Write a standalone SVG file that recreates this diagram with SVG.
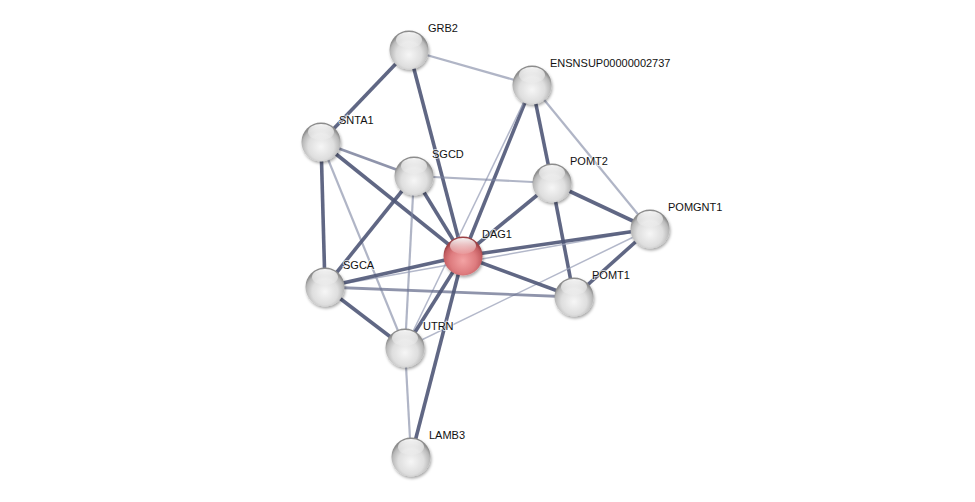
<svg xmlns="http://www.w3.org/2000/svg" width="975" height="502" viewBox="0 0 975 502">
<defs>
<radialGradient id="gGray" cx="50%" cy="62%" r="55%">
<stop offset="0" stop-color="#f6f6f6"/>
<stop offset="0.6" stop-color="#dedede"/>
<stop offset="0.88" stop-color="#b8b8b8"/>
<stop offset="1" stop-color="#8c8c8c"/>
</radialGradient>
<radialGradient id="gRed" cx="50%" cy="62%" r="55%">
<stop offset="0" stop-color="#f3a3a4"/>
<stop offset="0.6" stop-color="#de7c7f"/>
<stop offset="0.88" stop-color="#c45e62"/>
<stop offset="1" stop-color="#9c4145"/>
</radialGradient>
<linearGradient id="gHi" x1="0" y1="0" x2="0" y2="1">
<stop offset="0" stop-color="#ffffff" stop-opacity="0.95"/>
<stop offset="1" stop-color="#ffffff" stop-opacity="0.1"/>
</linearGradient>
<filter id="sh" x="-40%" y="-40%" width="180%" height="180%">
<feDropShadow dx="1" dy="2" stdDeviation="1.6" flood-color="#000" flood-opacity="0.35"/>
</filter>
<style>
.e1{stroke:#4f5777;stroke-width:3.6;stroke-opacity:0.9;fill:none}
.e2{stroke:#69708f;stroke-width:2.8;stroke-opacity:0.75;fill:none}
.e3{stroke:#7c83a0;stroke-width:2.2;stroke-opacity:0.6;fill:none}
.e4{stroke:#9aa0b8;stroke-width:1.5;stroke-opacity:0.75;fill:none}
.n{fill:url(#gGray);filter:url(#sh)}
.r{fill:url(#gRed);filter:url(#sh)}
.hi{fill:url(#gHi)}
text{font-family:"Liberation Sans",Arial,sans-serif;font-size:11px;fill:#111;paint-order:stroke;stroke:#fff;stroke-width:2px;stroke-opacity:0.7}
</style>
</defs>
<rect width="975" height="502" fill="#ffffff"/>
<g id="connectors">
<line class="e1" x1="409" y1="50" x2="321" y2="142"/>
<line class="e3" x1="409" y1="50" x2="532" y2="85"/>
<line class="e1" x1="409" y1="50" x2="463" y2="256"/>
<line class="e1" x1="532" y1="85" x2="463" y2="256"/>
<line class="e4" x1="532" y1="85" x2="405" y2="348"/>
<line class="e1" x1="532" y1="85" x2="552" y2="183"/>
<line class="e3" x1="532" y1="85" x2="650" y2="229"/>
<line class="e2" x1="321" y1="142" x2="414" y2="176"/>
<line class="e1" x1="321" y1="142" x2="463" y2="256"/>
<line class="e1" x1="321" y1="142" x2="325" y2="287"/>
<line class="e3" x1="321" y1="142" x2="405" y2="348"/>
<line class="e3" x1="414" y1="176" x2="552" y2="183"/>
<line class="e1" x1="414" y1="176" x2="463" y2="256"/>
<line class="e1" x1="414" y1="176" x2="325" y2="287"/>
<line class="e3" x1="414" y1="176" x2="405" y2="348"/>
<line class="e1" x1="552" y1="183" x2="463" y2="256"/>
<line class="e1" x1="552" y1="183" x2="650" y2="229"/>
<line class="e1" x1="552" y1="183" x2="574" y2="297"/>
<line class="e4" x1="325" y1="287" x2="650" y2="229"/>
<line class="e4" x1="405" y1="348" x2="650" y2="229"/>
<line class="e1" x1="463" y1="256" x2="650" y2="229"/>
<line class="e1" x1="574" y1="297" x2="463" y2="256"/>
<line class="e1" x1="574" y1="297" x2="650" y2="229"/>
<line class="e2" x1="325" y1="287" x2="574" y2="297"/>
<line class="e1" x1="463" y1="256" x2="325" y2="287"/>
<line class="e1" x1="463" y1="256" x2="405" y2="348"/>
<line class="e1" x1="463" y1="256" x2="411" y2="457"/>
<line class="e1" x1="405" y1="348" x2="325" y2="287"/>
<line class="e3" x1="405" y1="348" x2="411" y2="457"/>
</g>
<g id="GRB2"><circle class="n" cx="409" cy="50" r="19.5"/><ellipse class="hi" cx="409" cy="40" rx="13" ry="8"/><text x="428" y="32">GRB2</text></g>
<g id="ENSNSUP00000002737"><circle class="n" cx="532" cy="85" r="19.5"/><ellipse class="hi" cx="532" cy="75" rx="13" ry="8"/><text x="550" y="67">ENSNSUP00000002737</text></g>
<g id="SNTA1"><circle class="n" cx="321" cy="142" r="19.5"/><ellipse class="hi" cx="321" cy="132" rx="13" ry="8"/><text x="339" y="124">SNTA1</text></g>
<g id="SGCD"><circle class="n" cx="414" cy="176" r="19.5"/><ellipse class="hi" cx="414" cy="166" rx="13" ry="8"/><text x="432" y="158">SGCD</text></g>
<g id="POMT2"><circle class="n" cx="552" cy="183" r="19.5"/><ellipse class="hi" cx="552" cy="173" rx="13" ry="8"/><text x="570" y="165">POMT2</text></g>
<g id="POMGNT1"><circle class="n" cx="650" cy="229" r="19.5"/><ellipse class="hi" cx="650" cy="219" rx="13" ry="8"/><text x="668" y="211">POMGNT1</text></g>
<g id="DAG1"><circle class="r" cx="463" cy="256" r="19.5"/><ellipse class="hi" cx="463" cy="246" rx="13" ry="8"/><text x="482" y="238">DAG1</text></g>
<g id="SGCA"><circle class="n" cx="325" cy="287" r="19.5"/><ellipse class="hi" cx="325" cy="277" rx="13" ry="8"/><text x="343" y="269">SGCA</text></g>
<g id="POMT1"><circle class="n" cx="574" cy="297" r="19.5"/><ellipse class="hi" cx="574" cy="287" rx="13" ry="8"/><text x="592" y="279">POMT1</text></g>
<g id="UTRN"><circle class="n" cx="405" cy="348" r="19.5"/><ellipse class="hi" cx="405" cy="338" rx="13" ry="8"/><text x="423" y="330">UTRN</text></g>
<g id="LAMB3"><circle class="n" cx="411" cy="457" r="19.5"/><ellipse class="hi" cx="411" cy="447" rx="13" ry="8"/><text x="429" y="439">LAMB3</text></g>
</svg>
